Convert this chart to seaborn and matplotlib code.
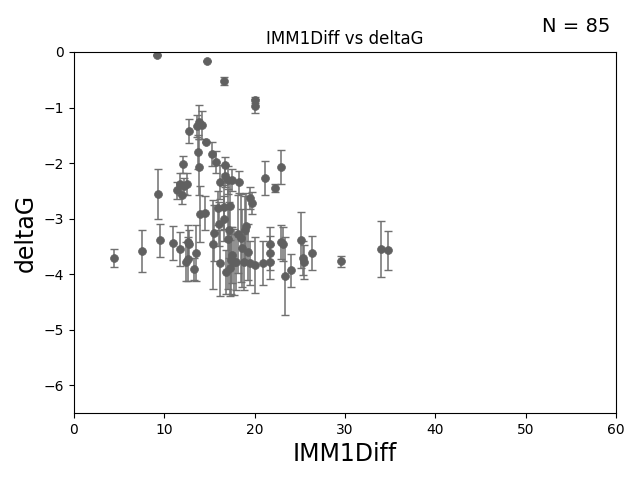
import matplotlib
matplotlib.use("Agg")
import matplotlib.pyplot as plt
import seaborn as sns
import pandas as pd

imm1diff = [9.19, 14.73, 16.61, 20.04, 20.04, 12.73, 13.62, 13.84, 14.17, 14.61,
            13.73, 15.28, 15.72, 13.84, 12.07, 16.72, 21.14, 22.91, 22.25, 9.3,
            11.4, 11.73, 12.18, 12.51, 11.95, 16.72, 17.05, 17.49, 16.17, 18.27,
            19.48, 19.71, 15.94, 16.61, 17.27, 13.95, 14.5, 9.52, 10.96, 11.73,
            12.62, 12.73, 12.4, 12.62, 13.29, 13.51, 4.43, 7.53, 15.39, 15.5,
            16.06, 16.17, 16.83, 17.05, 17.15, 17.38, 17.45, 17.7, 17.93, 18.16,
            18.45, 18.6, 18.82, 19.04, 19.26, 19.48, 20.04, 20.93, 21.7, 21.7,
            21.7, 22.91, 23.14, 23.36, 24.02, 25.13, 25.35, 25.46, 26.35, 29.56,
            33.99, 34.76, 17.27, 18.9, 16.61]
deltag = [-0.05, -0.16, -0.52, -0.86, -0.97, -1.42, -1.33, -1.26, -1.32, -1.62,
          -1.8, -1.84, -1.98, -2.07, -2.02, -2.04, -2.27, -2.07, -2.45, -2.56,
          -2.49, -2.38, -2.41, -2.38, -2.58, -2.23, -2.31, -2.31, -2.34, -2.34,
          -2.63, -2.72, -2.81, -2.79, -2.77, -2.92, -2.9, -3.39, -3.44, -3.55,
          -3.42, -3.46, -3.78, -3.73, -3.91, -3.62, -3.71, -3.59, -3.46, -3.26,
          -3.10, -3.8, -3.96, -3.37, -3.21, -3.75, -3.66, -3.78, -3.78, -3.28,
          -3.35, -3.53, -3.78, -3.14, -3.6, -3.8, -3.84, -3.8, -3.78, -3.46,
          -3.62, -3.42, -3.46, -4.04, -3.93, -3.39, -3.71, -3.78, -3.62, -3.77,
          -3.55, -3.57, -3.89, -3.2, -3.0]
deltag_err = [0, 0, 0.07, 0.05, 0.12, 0.22, 0.2, 0.3, 0.25, 0,
              0.3, 0.22, 0.2, 0.5, 0.15, 0.15, 0.3, 0.3, 0.08, 0.45,
              0.15, 0.2, 0.15, 0.2, 0.15, 0.2, 0.25, 0.2, 0.3, 0.2,
              0.2, 0.2, 0.3, 0.4, 0.5, 0.5, 0.3, 0.3, 0.3, 0.3,
              0.3, 0.25, 0.35, 0.4, 0.2, 0.5, 0.17, 0.38, 0.8, 0.5,
              0.4, 0.6, 0.4, 0.9, 0.5, 0.6, 0.5, 0.6, 0.5, 0.7,
              0.8, 0.7, 0.5, 0.6, 0.5, 0.4, 0.5, 0.4, 0.3, 0.3,
              0.3, 0.3, 0.3, 0.7, 0.3, 0.5, 0.3, 0.3, 0.3, 0.1,
              0.5, 0.35, 0.5, 0.6, 0.4]

df = pd.DataFrame({"IMM1Diff": imm1diff, "deltaG": deltag, "err": deltag_err})

fig = plt.figure(figsize=(6.4, 4.8), dpi=100)
ax = fig.add_axes([0.1156, 0.1396, 0.8469, 0.7521])

ax.errorbar(df["IMM1Diff"], df["deltaG"], yerr=df["err"], fmt="none",
            ecolor="#707070", elinewidth=1.1, capsize=3, capthick=1.0, zorder=1)
sns.scatterplot(data=df, x="IMM1Diff", y="deltaG", ax=ax, color="#606060",
                s=32, edgecolor="#606060", linewidth=0.5, zorder=2)

ax.set_xlim(0, 60)
ax.set_ylim(-6.5, 0)
ax.set_xticks([0, 10, 20, 30, 40, 50, 60])
ax.set_yticks([0, -1, -2, -3, -4, -5, -6])
ax.set_xlabel("IMM1Diff", fontsize=17)
ax.set_ylabel("deltaG", fontsize=17)
ax.set_title("IMM1Diff vs deltaG", fontsize=12)
fig.text(0.953, 0.945, "N = 85", fontsize=14, ha="right", va="center")

fig.savefig("out.png", dpi=100)
